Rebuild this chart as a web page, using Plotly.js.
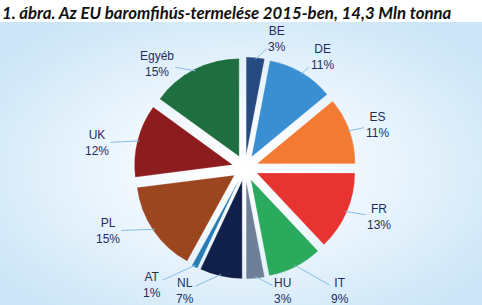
<!DOCTYPE html>
<html><head><meta charset="utf-8">
<script src="https://cdn.plot.ly/plotly-3.0.1.min.js"></script>
<style>html,body{margin:0;padding:0;background:#fff}#chart{width:482px;height:305px}</style>
</head><body><div id="chart"></div>
<script>
// Data
const countries = ['BE','DE','ES','FR','IT','HU','NL','AT','PL','UK','Egyéb'];
const shares = [3,11,11,13,9,3,7,1,15,12,15];
const shareLabels = ['3%','11%','11%','13%','9%','3%','7%','1%','15%','12%','15%'];

// Styles
const colors = ['#274a80','#3a8fd2','#f27a32','#e83430','#2aaa5c','#6e8098','#11204a','#2a7cb4','#9c4620','#8c1c1e','#1e6e40'];
const W = 482, H = 305;
const cx = 245, cy = 168, Rout = 111, pull = 0.13;
// label text block centres (page pixels)
const labelPos = [[277,39],[322,57],[377,125],[379,217],[340,291],[283,291],[185,291],[152,285],[108,231],[97,143],[157,64]];

const dom = {
  x: [(cx - Rout) / W, (cx + Rout) / W],
  y: [(H - cy - Rout) / H, (H - cy + Rout) / H]
};
const r = Rout / (1 + pull);

const total = shares.reduce((a, b) => a + b, 0);
let cum = 0;
const annotations = [];
countries.forEach((c, i) => {
  const mid = (cum + shares[i] / 2) / total * 2 * Math.PI;
  cum += shares[i];
  const edge = r * (1 + pull) - 2;
  const hx = cx + edge * Math.sin(mid);
  const hy = cy - edge * Math.cos(mid);
  const [tx, ty] = labelPos[i];
  annotations.push({
    xref: 'paper', yref: 'paper',
    x: hx / W, y: 1 - hy / H,
    ax: tx - hx, ay: ty - hy,
    text: c + '<br>' + shareLabels[i],
    showarrow: true, arrowhead: 0, arrowwidth: 1, arrowcolor: '#86bde4',
    standoff: 0, startstandoff: 0,
    font: {family: 'Liberation Sans, Arial, sans-serif', size: 12, color: '#1f2d5c'},
    align: 'center'
  });
});

const bgSvg = `<svg xmlns='http://www.w3.org/2000/svg' width='482' height='283'><defs><radialGradient id='g' cx='0.5' cy='0.52' r='0.62'><stop offset='0' stop-color='#ffffff'/><stop offset='0.3' stop-color='#f5faff'/><stop offset='1' stop-color='#cde6f7'/></radialGradient></defs><rect width='482' height='283' fill='url(#g)'/></svg>`;

const trace = {
  type: 'pie',
  labels: countries,
  values: shares,
  sort: false,
  direction: 'clockwise',
  rotation: 0,
  pull: pull,
  marker: {colors: colors, line: {color: 'rgba(255,255,255,0.35)', width: 0.6}},
  textinfo: 'none',
  hoverinfo: 'label+percent',
  domain: dom,
  showlegend: false
};

const layout = {
  width: W, height: H,
  margin: {l: 0, r: 0, t: 0, b: 0},
  paper_bgcolor: '#ffffff',
  title: {
    text: '<b><i>1. ábra. Az EU baromfihús-termelése 2015-ben, 14,3 Mln tonna</i></b>',
    font: {family: 'Lato, Open Sans, sans-serif', size: 16.8, color: '#111111'},
    x: 0.004, xanchor: 'left', y: 0.975, yanchor: 'top'
  },
  images: [{
    source: 'data:image/svg+xml;charset=utf-8,' + encodeURIComponent(bgSvg),
    xref: 'paper', yref: 'paper', x: 0, y: 1 - 22 / H, sizex: 1, sizey: (H - 22) / H,
    xanchor: 'left', yanchor: 'top', sizing: 'stretch', layer: 'below'
  }],
  annotations: annotations
};

Plotly.newPlot('chart', [trace], layout, {displayModeBar: false, staticPlot: true});
</script>
</body></html>
